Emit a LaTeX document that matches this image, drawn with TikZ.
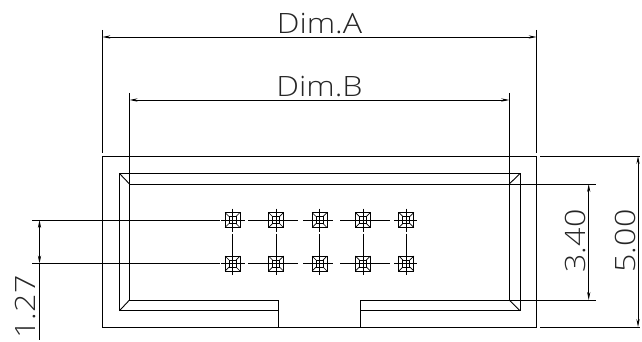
\documentclass[tikz,border=0pt]{standalone}
\usepackage{fontspec}
\setmainfont{Open Sans}[UprightFont=* Light, FakeStretch=1.15]
\usetikzlibrary{arrows.meta}
\tikzset{>={Stealth[length=8pt,width=3.2pt]}}
\begin{document}
\begin{tikzpicture}[
		x=1pt, y=-1pt,
		outline/.style = {draw=black, line width=0.9pt},
		dimline/.style = {draw=black, line width=0.8pt},
		dimlabel/.style = {inner sep=0pt, text=black!85, font=\fontsize{28}{28}\selectfont}
	]
	\useasboundingbox (0,0) rectangle (642,342);
	% body
	\draw[outline] (102.3,156) rectangle (536.7,327);
	\draw[outline] (278.3,327) |- (119.5,310.7) |- (520,173.5) |- (360.7,310.7) -- (360.7,327);
	\draw[outline] (278.3,310.7) |- (129.5,300) |- (509.3,184) |- (360.7,300) -- (360.7,310.7);
	\draw[outline] (119.5,173.5) -- (129.5,184);
	\draw[outline] (520,173.5) -- (509.3,184);
	\draw[outline] (119.5,310.7) -- (129.5,300);
	\draw[outline] (520,310.7) -- (509.3,300);
	% pins
	\foreach \px in {232.5,276,319.5,362.9,406.3} {
		\foreach \py in {220,263.5} {
			\draw[line width=0.8pt] (\px-7.5,\py-7.5) rectangle (\px+7.5,\py+7.5);
			\draw[line width=0.7pt] (\px-3.5,\py-3.5) rectangle (\px+3.5,\py+3.5);
			\draw[line width=0.7pt] (\px-7.5,\py-7.5) -- (\px-3.5,\py-3.5) (\px+7.5,\py-7.5) -- (\px+3.5,\py-3.5)
				(\px-7.5,\py+7.5) -- (\px-3.5,\py+3.5) (\px+7.5,\py+7.5) -- (\px+3.5,\py+3.5);
			\draw[line width=0.7pt] (\px,\py-11.5) -- (\px,\py+11.5);
		}
	}
	% centre lines
	\foreach \py in {220,263.5} {
		\draw[dimline] (32,\py) -- (219.7,\py);
		\draw[dimline] (221,\py) -- (245,\py);
		\draw[dimline] (248,\py) -- (298,\py);
		\draw[dimline] (303,\py) -- (333,\py);
		\draw[dimline] (340,\py) -- (390,\py);
		\draw[dimline] (394,\py) -- (417,\py);
	}
	\foreach \px in {232.5,276,319.5,362.9,406.3} {
		\draw[dimline] (\px,233.5) -- (\px,251.5);
	}
	% dimensions
	\draw[dimline] (102.3,30) -- (102.3,153);
	\draw[dimline] (536.7,30) -- (536.7,153);
	\draw[dimline] (129.5,93) -- (129.5,184);
	\draw[dimline] (509.3,93) -- (509.3,184);
	\draw[dimline] (540,156) -- (640,156);
	\draw[dimline] (540,327) -- (640,327);
	\draw[dimline] (509.3,184) -- (596,184);
	\draw[dimline] (509.3,300) -- (596,300);
	\draw[dimline, <->] (102.3,37) -- (536.7,37);
	\draw[dimline, <->] (129.5,100) -- (509.3,100);
	\draw[dimline, <->] (638,156) -- (638,327);
	\draw[dimline, <->] (588.7,184) -- (588.7,300);
	\draw[dimline, <->] (39.5,220) -- (39.5,263.5);
	\draw[dimline] (39.5,263.5) -- (39.5,340);
	% labels
	\node[dimlabel] (dima) at (319.5,23.5) {Dim.A};
	\node[dimlabel] (dimb) at (319.5,86.5) {Dim.B};
	\node[dimlabel, rotate=90] (dimc) at (25,307) {1.27};
	\node[dimlabel, rotate=90] (dimd) at (575,241) {3.40};
	\node[dimlabel, rotate=90] (dime) at (625,241) {5.00};
\end{tikzpicture}
\end{document}
